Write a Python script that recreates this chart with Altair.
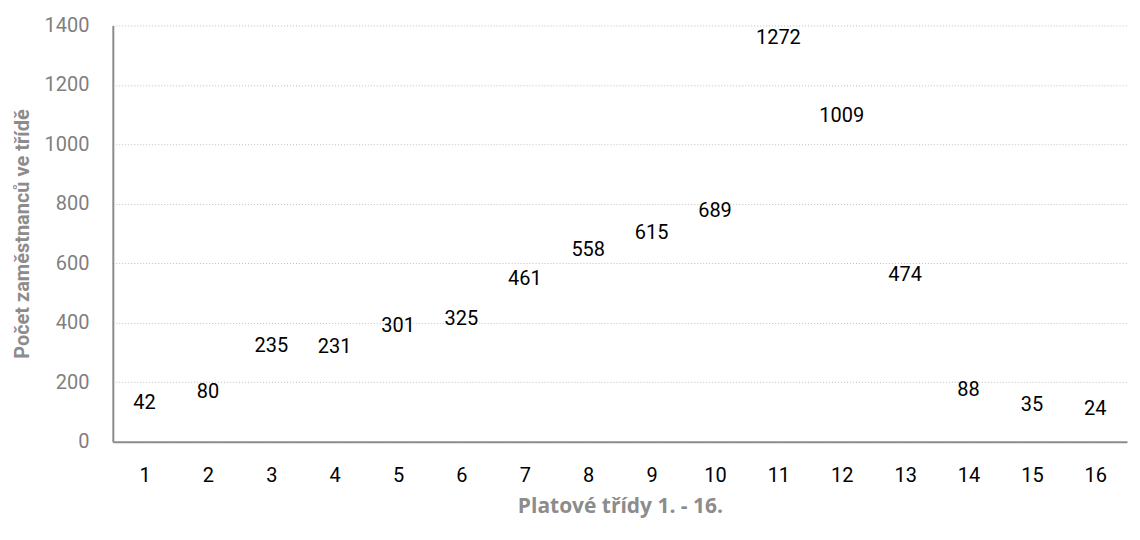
import altair as alt
import pandas as pd

classes = [str(i) for i in range(1, 17)]
counts = [42, 80, 235, 231, 301, 325, 461, 558, 615, 689, 1272, 1009, 474, 88, 35, 24]

df = pd.DataFrame({"trida": classes, "pocet": counts})

NUMFONT = "Roboto"

x_enc = alt.X("trida:N", sort=classes, title="Platové třídy 1. - 16.",
              scale=alt.Scale(paddingInner=0.3, paddingOuter=0.15),
              axis=alt.Axis(labelAngle=0, labelFontSize=20, labelColor="#000000",
                            labelFont=NUMFONT, labelPadding=24,
                            ticks=False, domainColor="#8c8c8c", domainWidth=2,
                            titleFont="Open Sans", titleFontSize=21, titleFontWeight="bold",
                            titleColor="#8c8c8c", titlePadding=10, grid=False))
y_enc = alt.Y("pocet:Q", title="Počet zaměstnanců ve třídě",
              scale=alt.Scale(domain=[0, 1400]),
              axis=alt.Axis(values=[0, 200, 400, 600, 800, 1000, 1200, 1400], format="d",
                            labelFontSize=20, labelColor="#7f7f7f",
                            labelFont=NUMFONT, labelPadding=24,
                            ticks=False, domainColor="#8c8c8c", domainWidth=2,
                            gridColor="#bfbfbf", gridDash=[1, 2], gridWidth=1,
                            titleFont="Roboto", titleFontSize=20,
                            titleFontWeight="bold", titleColor="#8c8c8c", titlePadding=12))

text = alt.Chart(df).mark_text(fontSize=20, font=NUMFONT, color="#000000",
                               dy=-26).encode(x=x_enc, y=y_enc, text="pocet:Q")

chart = text.properties(width=1016, height=417, padding={"left": 4, "top": 7, "right": 5, "bottom": 5}).configure_view(stroke=None)

chart.save("out.html", embed_options={"renderer": "svg", "actions": False})
